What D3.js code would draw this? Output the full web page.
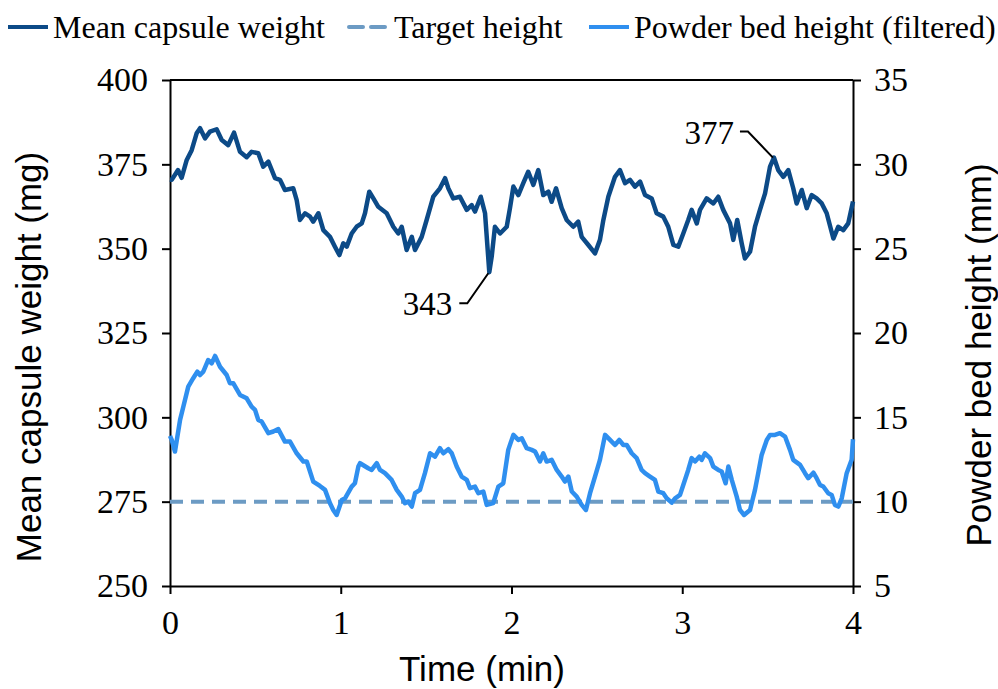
<!DOCTYPE html>
<html><head><meta charset="utf-8">
<script src="https://cdn.jsdelivr.net/npm/d3@7"></script>
<style>body{margin:0;background:#fff}svg{display:block}</style>
</head><body>
<svg id="c" width="998" height="689"></svg>
<script>
// Mean capsule weight (mg) vs time (min)
const weightTime = [0,0.010,0.047,0.068,0.098,0.127,0.156,0.176,0.205,0.234,0.273,0.303,0.341,0.375,0.410,0.449,0.478,0.517,0.546,0.576,0.615,0.644,0.673,0.722,0.742,0.761,0.791,0.820,0.839,0.869,0.898,0.937,0.966,0.992,1.015,1.035,1.064,1.093,1.123,1.142,1.167,1.191,1.220,1.269,1.308,1.337,1.357,1.386,1.416,1.435,1.474,1.503,1.542,1.581,1.611,1.630,1.659,1.698,1.738,1.767,1.786,1.820,1.845,1.870,1.884,1.903,1.933,1.972,1.991,2.011,2.040,2.069,2.098,2.128,2.157,2.186,2.216,2.235,2.261,2.294,2.323,2.362,2.391,2.411,2.450,2.489,2.518,2.538,2.567,2.606,2.635,2.665,2.694,2.723,2.753,2.782,2.821,2.850,2.889,2.918,2.948,2.977,3.006,3.035,3.055,3.085,3.104,3.143,3.182,3.211,3.240,3.280,3.299,3.322,3.348,3.367,3.397,3.426,3.455,3.485,3.514,3.537,3.562,3.592,3.621,3.650,3.670,3.700,3.729,3.758,3.787,3.817,3.846,3.885,3.914,3.943,3.972,4.000];
const weightValues = [370.5,370.4,373.3,371,376.3,379.2,384.2,385.7,382.7,384.7,385.4,382.2,380.7,384.4,378.7,377.1,378.7,378.3,374.3,375.8,370.9,370.4,367.4,367.9,364.4,358.5,360.5,359.5,358,360.5,355.5,353.5,350.6,348.1,351.6,350.6,354.5,356.5,357.5,360.5,366.9,364.9,362.4,360.5,356.5,354.5,356.5,349.6,353.5,349.6,353.5,358.5,365.4,367.9,370.9,367.9,364.9,365.4,361.5,362.9,361,365.4,360.5,343,347.6,356.5,354.5,356.5,362,368.4,365.9,369.4,372.8,368.9,373.3,365.9,366.9,363.9,367.9,362,358.5,356.5,358,353.5,351.1,348.6,352.6,358.5,365.4,371.3,373.3,369.4,370.4,368.4,369.9,365.9,364.9,360.5,359.5,356.5,351.1,350.6,354.5,358.5,361.5,357.5,361.5,364.9,363.4,365.4,361.5,357.5,352.6,358.5,351.6,347.1,349.1,356.5,361.5,366.4,374.3,377,373.3,371.3,373.3,367.9,363.4,367.4,362,365.9,364.9,363.4,360.5,353,356.5,355.5,357.5,364];

// Powder bed height (filtered), mm vs time (min)
const heightTime = [0,0.010,0.029,0.059,0.078,0.107,0.136,0.160,0.176,0.195,0.224,0.244,0.264,0.293,0.332,0.351,0.371,0.410,0.449,0.478,0.498,0.517,0.537,0.576,0.605,0.634,0.673,0.703,0.742,0.781,0.801,0.839,0.878,0.908,0.937,0.956,0.976,1.006,1.025,1.064,1.083,1.103,1.113,1.161,1.181,1.211,1.230,1.259,1.298,1.328,1.357,1.376,1.396,1.416,1.435,1.464,1.493,1.523,1.552,1.581,1.601,1.630,1.650,1.679,1.708,1.738,1.757,1.786,1.806,1.835,1.855,1.893,1.923,1.952,1.981,2.011,2.040,2.060,2.089,2.118,2.138,2.167,2.186,2.206,2.235,2.265,2.294,2.313,2.333,2.353,2.382,2.411,2.436,2.460,2.489,2.518,2.548,2.577,2.606,2.631,2.655,2.675,2.704,2.733,2.762,2.782,2.811,2.840,2.860,2.889,2.909,2.938,2.958,2.987,3.006,3.035,3.055,3.075,3.100,3.114,3.133,3.163,3.182,3.211,3.231,3.254,3.270,3.290,3.319,3.338,3.362,3.397,3.426,3.445,3.465,3.495,3.514,3.543,3.572,3.602,3.631,3.650,3.690,3.719,3.738,3.768,3.787,3.807,3.826,3.855,3.875,3.894,3.914,3.934,3.963,3.992,4.000];
const heightValues = [13.9,13.66,12.97,14.85,15.63,16.82,17.32,17.71,17.51,17.71,18.4,18.2,18.64,18.0,17.51,17.02,17.02,16.33,16.13,15.63,15.44,14.85,14.75,14.06,14.16,14.3,13.56,13.56,12.87,12.38,12.38,11.19,10.93,10.7,9.91,9.51,9.21,10.1,10.2,10.89,11.09,12.08,12.28,11.98,11.88,12.28,11.88,11.69,11.29,10.7,10.3,9.91,10.0,9.71,10.5,10.7,11.69,12.87,12.67,13.17,12.87,13.11,12.87,12.08,11.49,11.29,10.8,10.89,10.5,10.6,9.81,9.91,10.89,11.09,13.07,13.96,13.66,13.76,13.17,13.07,12.97,12.38,12.87,12.38,12.48,11.88,11.49,11.19,11.49,10.6,10.3,9.81,9.51,10.5,11.49,12.48,13.96,13.66,13.36,13.66,13.36,13.36,12.87,12.58,11.88,11.69,11.49,11.29,10.6,10.5,10.2,9.94,10.2,10.4,10.99,11.88,12.58,12.38,12.67,12.48,12.87,12.58,12.08,11.88,11.79,11.09,12.08,11.29,10.3,9.51,9.21,9.51,10.7,11.69,12.77,13.66,13.96,13.96,14.06,13.86,13.07,12.48,12.18,11.69,11.39,11.72,11.39,10.99,10.9,10.5,10.4,9.81,9.71,10.2,11.69,12.48,13.7];

const targetHeight = 10;
const xTicks = [0,1,2,3,4];
const leftTicks = [250,275,300,325,350,375,400];
const rightTicks = [5,10,15,20,25,30,35];
const seriesNames = ["Mean capsule weight","Target height","Powder bed height (filtered)"];
const annotations = [{t:1.870, v:343, label:"343"},{t:3.537, v:377, label:"377"}];

const colDark = "#0c4a87", colLight = "#2f8fef", colTarget = "#6c9bc4";
const svg = d3.select("#c");
const L = 170, R = 853, T = 80, B = 586;
const x = d3.scaleLinear().domain([0,4]).range([L,R]);
const yL = d3.scaleLinear().domain([250,400]).range([B,T]);
const yR = d3.scaleLinear().domain([5,35]).range([B,T]);
const serif = "'Liberation Serif','Times New Roman',serif";
const sans = "'Liberation Sans',Arial,sans-serif";

// frame top
svg.append("line").attr("x1",L).attr("x2",R).attr("y1",T).attr("y2",T).attr("stroke","#000").attr("stroke-width",2);

function styleAxis(g){
  g.selectAll("path,line").attr("stroke","#000").attr("stroke-width",2);
  g.selectAll("text").attr("font-family",serif).attr("font-size",34).attr("fill","#000");
}
svg.append("g").attr("transform",`translate(0,${B})`)
  .call(d3.axisBottom(x).tickValues(xTicks).tickFormat(d3.format("d")).tickSize(8).tickSizeOuter(0).tickPadding(16))
  .call(styleAxis);
svg.append("g").attr("transform",`translate(${L},0)`)
  .call(d3.axisLeft(yL).tickValues(leftTicks).tickSize(8).tickSizeOuter(0).tickPadding(14))
  .call(styleAxis);
svg.append("g").attr("transform",`translate(${R},0)`)
  .call(d3.axisRight(yR).tickValues(rightTicks).tickSize(8).tickSizeOuter(0).tickPadding(13))
  .call(styleAxis);

// target
svg.append("line").attr("x1",x(0)).attr("x2",x(4)).attr("y1",yR(targetHeight)).attr("y2",yR(targetHeight))
  .attr("stroke",colTarget).attr("stroke-width",4).attr("stroke-dasharray","13,8");

const lineW = d3.line().x((d,i)=>x(weightTime[i])).y(d=>yL(d));
const lineH = d3.line().x((d,i)=>x(heightTime[i])).y(d=>yR(d));
svg.append("path").datum(heightValues).attr("d",lineH).attr("fill","none").attr("stroke",colLight).attr("stroke-width",4.5).attr("stroke-linejoin","round");
svg.append("path").datum(weightValues).attr("d",lineW).attr("fill","none").attr("stroke",colDark).attr("stroke-width",4.5).attr("stroke-linejoin","round");

// annotations
const a0 = annotations[0], px0 = x(a0.t), py0 = yL(a0.v);
svg.append("polyline").attr("points",`${px0-30},${py0+31} ${px0-22},${py0+31} ${px0-1},${py0+1}`).attr("fill","none").attr("stroke","#000").attr("stroke-width",2);
svg.append("text").attr("x",px0-37).attr("y",py0+43).attr("text-anchor","end").attr("font-family",serif).attr("font-size",33).text(a0.label);
const a1 = annotations[1], px1 = x(a1.t), py1 = yL(a1.v);
svg.append("polyline").attr("points",`${px1-34},${py1-26} ${px1-26},${py1-26} ${px1-1},${py1}`).attr("fill","none").attr("stroke","#000").attr("stroke-width",2);
svg.append("text").attr("x",px1-40).attr("y",py1-14).attr("text-anchor","end").attr("font-family",serif).attr("font-size",33).text(a1.label);

// axis titles
svg.append("text").attr("transform",`translate(41,357) rotate(-90)`).attr("text-anchor","middle").attr("font-family",sans).attr("font-size",35).text("Mean capsule weight (mg)");
svg.append("text").attr("transform",`translate(991,355) rotate(-90)`).attr("text-anchor","middle").attr("font-family",sans).attr("font-size",35).text("Powder bed height (mm)");
svg.append("text").attr("x",482).attr("y",681).attr("text-anchor","middle").attr("font-family",sans).attr("font-size",35).text("Time (min)");

// legend
const legX = [8,349,589];
const legend = svg.append("g");
seriesNames.forEach((n,i)=>{
  const g = legend.append("g").attr("transform",`translate(${legX[i]},27)`);
  g.append("line").attr("x1",0).attr("x2",40).attr("y1",0).attr("y2",0)
    .attr("stroke",[colDark,colTarget,colLight][i]).attr("stroke-width",4)
    .attr("stroke-dasharray", i===1 ? "14,8" : null).attr("stroke-linecap", i===1?"round":"butt");
  g.append("text").attr("x",45).attr("y",11).attr("font-family",serif).attr("font-size",32).text(n);
});
</script>
</body></html>
